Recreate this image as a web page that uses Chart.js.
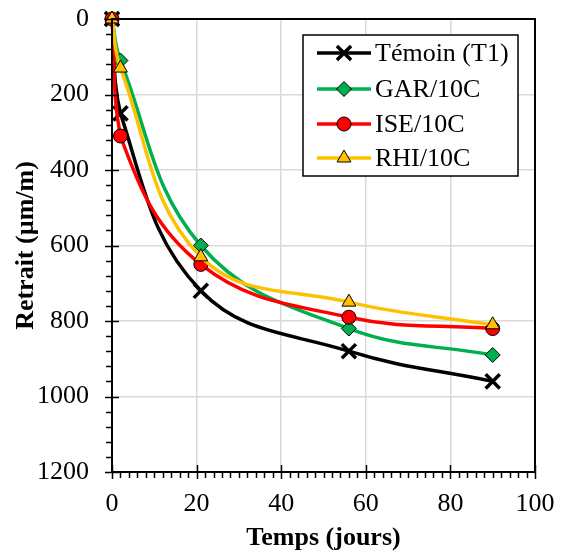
<!DOCTYPE html>
<html><head><meta charset="utf-8">
<script src="https://cdn.jsdelivr.net/npm/chart.js@4/dist/chart.umd.min.js"></script>
<style>html,body{margin:0;padding:0;background:#fff}#wrap{width:563px;height:555px}</style>
</head><body><div id="wrap"><canvas id="c" width="563" height="555"></canvas></div>
<script>
// ---- data ----
const days = [0, 2, 21, 56, 90];
const temoin = [0, 250, 720, 880, 960];
const gar = [0, 110, 600, 820, 890];
const ise = [0, 310, 650, 790, 820];
const rhi = [0, 130, 630, 750, 810];
const seriesNames = ['Témoin (T1)', 'GAR/10C', 'ISE/10C', 'RHI/10C'];
const xTickLabels = [0, 20, 40, 60, 80, 100];
const yTickLabels = [0, 200, 400, 600, 800, 1000, 1200];
const xMinorStep = 2;
const yMinorStep = 40;

const FONT = "'Liberation Serif','Times New Roman',serif";
const toXY = vals => vals.map((v, i) => ({x: days[i], y: v}));

function ds(label, vals, color, style, radius, fill, bw, order) {
  return {
    label, data: toXY(vals), borderColor: color, backgroundColor: fill,
    borderWidth: 3.5, tension: 0.4, pointStyle: style, pointRadius: radius,
    pointBorderColor: '#000', pointBackgroundColor: fill, pointBorderWidth: bw,
    clip: false, order
  };
}

const datasets = [
  ds(seriesNames[0], temoin, '#000000', 'crossRot', 10, '#000000', 3.5, 4),
  ds(seriesNames[1], gar, '#00b050', 'rectRot', 7.5, '#00b050', 1, 3),
  ds(seriesNames[2], ise, '#ff0000', 'circle', 7, '#ff0000', 1, 2),
  ds(seriesNames[3], rhi, '#ffc000', 'triangle', 8, '#ffc000', 1, 1)
];

function drawMarker(ctx, d, x, y) {
  ctx.save();
  ctx.fillStyle = d.pointBackgroundColor;
  ctx.strokeStyle = d.pointBorderColor;
  ctx.lineWidth = d.pointBorderWidth;
  Chart.helpers.drawPoint(ctx, {pointStyle: d.pointStyle, rotation: 0, radius: d.pointRadius, borderWidth: d.pointBorderWidth}, x, y);
  ctx.restore();
}

const decor = {
  id: 'decor',
  afterDraw(chart) {
    const {ctx, chartArea: a, scales: {x, y}} = chart;
    ctx.save();
    ctx.strokeStyle = '#000';
    ctx.lineWidth = 2;
    ctx.strokeRect(a.left, a.top, a.right - a.left, a.bottom - a.top);
    ctx.lineWidth = 1.5;
    for (let v = y.min; v <= y.max; v += yMinorStep) {
      const py = Math.round(y.getPixelForValue(v)) + 0.5;
      const major = yTickLabels.includes(v);
      ctx.beginPath();
      ctx.moveTo(a.left - (major ? 7 : 6), py);
      ctx.lineTo(a.left + (major ? 7 : 0), py);
      ctx.stroke();
    }
    for (let v = x.min; v <= x.max; v += xMinorStep) {
      const px = Math.round(x.getPixelForValue(v)) + 0.5;
      const major = xTickLabels.includes(v);
      ctx.beginPath();
      ctx.moveTo(px, a.bottom + (major ? 7 : 6));
      ctx.lineTo(px, a.bottom - (major ? 7 : 0));
      ctx.stroke();
    }
    const L = {x: 303, y: 35, w: 215, h: 141};
    ctx.fillStyle = '#fff';
    ctx.fillRect(L.x, L.y, L.w, L.h);
    ctx.lineWidth = 1.5;
    ctx.strokeStyle = '#000';
    ctx.strokeRect(L.x, L.y, L.w, L.h);
    const rows = [53, 89, 124, 158];
    chart.data.datasets.forEach((d, i) => {
      const ry = rows[i];
      ctx.strokeStyle = d.borderColor;
      ctx.lineWidth = 3.5;
      ctx.beginPath();
      ctx.moveTo(317, ry); ctx.lineTo(371, ry);
      ctx.stroke();
      drawMarker(ctx, d, 344, ry);
      ctx.fillStyle = '#000';
      ctx.font = "26px " + FONT;
      ctx.textAlign = 'left';
      ctx.textBaseline = 'middle';
      ctx.fillText(d.label, 375, ry + 1);
    });
    ctx.restore();
  }
};

new Chart(document.getElementById('c'), {
  type: 'line',
  data: {datasets},
  options: {
    responsive: false, animation: false, devicePixelRatio: 1,
    layout: {padding: {top: 19, right: 28, left: 0, bottom: 0}},
    plugins: {legend: {display: false}, tooltip: {enabled: false}},
    scales: {
      x: {
        type: 'linear', min: 0, max: 100,
        afterBuildTicks: s => { s.ticks = xTickLabels.map(v => ({value: v})); },
        afterFit: s => { s.height = 83; s.paddingLeft = 0; s.paddingRight = 0; },
        ticks: {color: '#000', font: {family: FONT, size: 26}, padding: 17, maxRotation: 0, callback: v => String(v)},
        grid: {color: '#d9d9d9', lineWidth: 1.5, drawTicks: false},
        border: {color: '#000', width: 2},
        title: {display: true, text: 'Temps (jours)', color: '#000', font: {family: FONT, size: 26, weight: 'bold'}, padding: {top: 0, bottom: 1}}
      },
      y: {
        type: 'linear', min: 0, max: 1200, reverse: true,
        afterBuildTicks: s => { s.ticks = yTickLabels.map(v => ({value: v})); },
        afterFit: s => { s.width = 112; s.paddingTop = 0; s.paddingBottom = 0; },
        ticks: {color: '#000', font: {family: FONT, size: 26}, padding: 23, callback: v => String(v)},
        grid: {color: '#d9d9d9', lineWidth: 1.5, drawTicks: false},
        border: {color: '#000', width: 2},
        title: {display: true, text: 'Retrait (µm/m)', color: '#000', font: {family: FONT, size: 26, weight: 'bold'}, padding: {top: 11, bottom: 0}}
      }
    }
  },
  plugins: [decor]
});
</script>
</body></html>
